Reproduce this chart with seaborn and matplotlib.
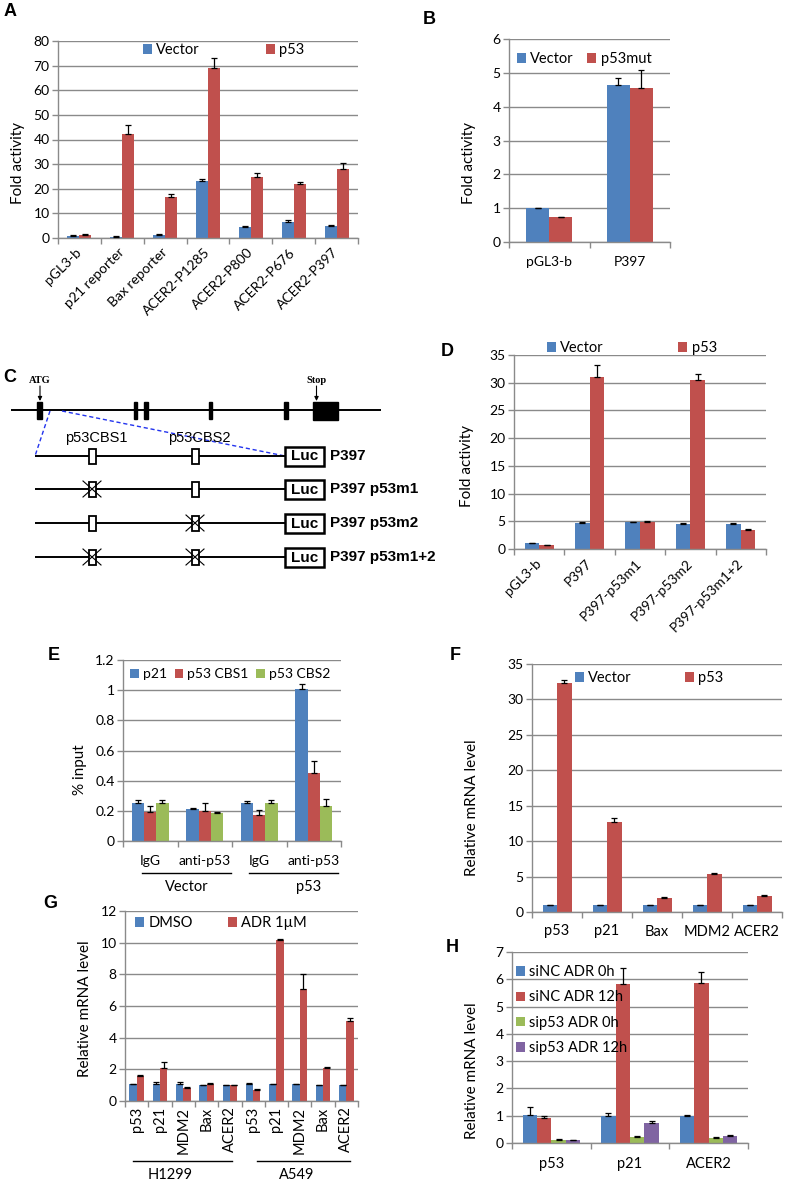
import numpy as np
import pandas as pd
import matplotlib
matplotlib.use("Agg")
import matplotlib.pyplot as plt
import matplotlib.ticker as mticker
import matplotlib.transforms as mtransforms
from matplotlib.patches import Rectangle
import seaborn as sns

# ---------------- data ----------------
a_categories = ["pGL3-b", "p21 reporter", "Bax reporter", "ACER2-P1285",
                "ACER2-P800", "ACER2-P676", "ACER2-P397"]
a_vector = [1.0, 0.5, 1.3, 23.2, 4.4, 6.6, 5.0]
a_vector_err = [0.3, 0.3, 0.4, 0.8, 0.4, 0.6, 0.4]
a_p53 = [1.4, 42.2, 16.8, 68.9, 24.8, 22.0, 28.2]
a_p53_err = [0.4, 3.8, 1.0, 4.0, 1.7, 0.8, 2.4]

b_categories = ["pGL3-b", "P397"]
b_vector = [1.0, 4.65]
b_vector_err = [0.01, 0.21]
b_p53mut = [0.73, 4.55]
b_p53mut_err = [0.01, 0.52]

c_constructs = ["P397", "P397 p53m1", "P397 p53m2", "P397 p53m1+2"]
c_sites = ["p53CBS1", "p53CBS2"]

d_categories = ["pGL3-b", "P397", "P397-p53m1", "P397-p53m2", "P397-p53m1+2"]
d_vector = [1.0, 4.7, 4.8, 4.5, 4.6]
d_vector_err = [0.1, 0.15, 0.1, 0.15, 0.1]
d_p53 = [0.7, 31.1, 4.9, 30.4, 3.5]
d_p53_err = [0.1, 2.1, 0.1, 1.1, 0.1]

e_categories = ["IgG", "anti-p53", "IgG", "anti-p53"]
e_groups = ["Vector", "p53"]
e_p21 = [0.25, 0.215, 0.255, 1.01]
e_p21_err = [0.02, 0.005, 0.007, 0.03]
e_cbs1 = [0.195, 0.20, 0.175, 0.45]
e_cbs1_err = [0.035, 0.05, 0.03, 0.08]
e_cbs2 = [0.255, 0.185, 0.255, 0.23]
e_cbs2_err = [0.015, 0.01, 0.02, 0.05]

f_categories = ["p53", "p21", "Bax", "MDM2", "ACER2"]
f_vector = [1.0, 1.0, 1.0, 1.0, 1.0]
f_vector_err = [0.05, 0.05, 0.05, 0.05, 0.05]
f_p53 = [32.3, 12.7, 2.0, 5.4, 2.3]
f_p53_err = [0.5, 0.6, 0.1, 0.15, 0.1]

g_categories = ["p53", "p21", "MDM2", "Bax", "ACER2",
                "p53", "p21", "MDM2", "Bax", "ACER2"]
g_groups = ["H1299", "A549"]
g_dmso = [1.05, 1.05, 1.05, 1.0, 1.0, 1.05, 1.05, 1.05, 1.0, 1.0]
g_dmso_err = [0.05, 0.15, 0.12, 0.02, 0.02, 0.07, 0.03, 0.03, 0.02, 0.02]
g_adr = [1.6, 2.06, 0.85, 1.1, 1.0, 0.7, 10.2, 7.1, 2.1, 5.05]
g_adr_err = [0.03, 0.42, 0.02, 0.03, 0.02, 0.05, 0.05, 0.95, 0.03, 0.2]

h_categories = ["p53", "p21", "ACER2"]
h_sinc_0h = [1.03, 1.0, 1.0]
h_sinc_0h_err = [0.3, 0.1, 0.02]
h_sinc_12h = [0.9, 5.82, 5.87]
h_sinc_12h_err = [0.08, 0.58, 0.38]
h_sip53_0h = [0.12, 0.23, 0.2]
h_sip53_0h_err = [0.02, 0.03, 0.03]
h_sip53_12h = [0.1, 0.75, 0.26]
h_sip53_12h_err = [0.02, 0.07, 0.03]

# ---------------- style ----------------
BLUE, RED, GREEN, PURPLE = "#4F81BD", "#C0504D", "#9BBB59", "#8064A2"
GRID = "#8A8A8A"
FONT = "Lato"
TICK_FS = 10
LEG_FS = 10.5
YLAB_FS = 11

W, H = 787, 1181
fig = plt.figure(figsize=(W / 100, H / 100), dpi=100)
plt.rcParams["font.family"] = [FONT, "DejaVu Sans"]

# overlay axes in pixel coordinates (for diagram and annotations)
dax = fig.add_axes([0, 0, 1, 1])
dax.set_xlim(0, W)
dax.set_ylim(H, 0)
dax.axis("off")


def px_axes(left, top, right, bottom):
    return fig.add_axes([left / W, 1 - bottom / H, (right - left) / W, (bottom - top) / H])


def grouped_bars(ax, labels, series, colors, width, ymax, ystep):
    n = len(labels)
    keys = [f"c{i}" for i in range(n)]
    rows = []
    for name, vals, errs in series:
        for k, v in zip(keys, vals):
            rows.append({"cat": k, "series": name, "value": v})
    df = pd.DataFrame(rows)
    names = [s[0] for s in series]
    sns.barplot(data=df, x="cat", y="value", hue="series", order=keys,
                hue_order=names, palette=colors, width=width, saturation=1,
                errorbar=None, legend=False, linewidth=0, ax=ax)
    for cont, (name, vals, errs) in zip(ax.containers, series):
        xs = [b.get_x() + b.get_width() / 2 for b in cont]
        hs = [b.get_height() for b in cont]
        ax.errorbar(xs, hs, yerr=[np.zeros(len(errs)), errs], fmt="none",
                    ecolor="black", elinewidth=0.9, capsize=2.3, capthick=0.9,
                    zorder=4)
    ax.set_xlim(-0.5, n - 0.5)
    ax.set_ylim(0, ymax)
    ax.set_yticks(np.arange(0, ymax + ystep / 2, ystep))
    ax.yaxis.set_major_formatter(mticker.FuncFormatter(lambda v, p: f"{v:g}"))
    ax.grid(axis="y", color=GRID, lw=1.0)
    ax.grid(axis="x", visible=False)
    ax.set_axisbelow(True)
    ax.set_facecolor("none")
    for s in ["top", "right"]:
        ax.spines[s].set_visible(False)
    for s in ["left", "bottom"]:
        ax.spines[s].set_color(GRID)
        ax.spines[s].set_linewidth(1.0)
    ax.set_xticks(range(n))
    ax.set_xticklabels(labels)
    ax.set_xticks(np.arange(-0.5, n), minor=True)
    ax.tick_params(axis="x", which="major", length=0, labelsize=TICK_FS)
    ax.tick_params(axis="x", which="minor", length=4, color=GRID, width=1)
    ax.tick_params(axis="y", length=4, color=GRID, width=1, labelsize=TICK_FS, pad=2)
    ax.set_xlabel("")
    ax.set_ylabel("")


def ylabel(ax, text, xc, yc):
    ax.set_ylabel(text, fontsize=YLAB_FS)
    ax.yaxis.label.set_va("center")
    ax.yaxis.label.set_ha("center")
    inv = ax.transAxes.inverted()
    ax_x, ax_y = inv.transform(fig.dpi_scale_trans.transform((xc / 100, (H - yc) / 100)))
    ax.yaxis.set_label_coords(ax_x, ax_y)


def legend(ax, names, colors, x, y, ncol, colspacing, loc="center left",
           labelspacing=0.5, fontsize=LEG_FS):
    handles = [Rectangle((0, 0), 1, 1, facecolor=c, edgecolor="none") for c in colors]
    ax.legend(handles, names, loc=loc, bbox_to_anchor=(x / W, 1 - y / H),
              bbox_transform=fig.transFigure, ncol=ncol, frameon=False,
              fontsize=fontsize, handlelength=0.62, handleheight=0.62,
              handletextpad=0.3, columnspacing=colspacing, borderpad=0,
              borderaxespad=0, labelspacing=labelspacing)


def panel_letter(x, y, s):
    fig.text(x / W, 1 - y / H, s, fontsize=13, fontweight="bold",
             family="Liberation Sans", ha="center", va="center")


# ---------------- A ----------------
axA = px_axes(58, 41, 358, 238)
grouped_bars(axA, a_categories,
             [("Vector", a_vector, a_vector_err), ("p53", a_p53, a_p53_err)],
             [BLUE, RED], 0.56, 80, 10)
for lab in axA.get_xticklabels():
    lab.set_rotation(45)
    lab.set_ha("right")
    lab.set_va("center")
    lab.set_rotation_mode("anchor")
axA.tick_params(axis="x", which="major", pad=9)
ylabel(axA, "Fold activity", 18, 163)
legend(axA, ["Vector", "p53"], [BLUE, RED], 143, 50, 2, 4.5)
panel_letter(10, 11, "A")

# ---------------- B ----------------
axB = px_axes(509, 39, 670, 242)
grouped_bars(axB, b_categories,
             [("Vector", b_vector, b_vector_err), ("p53mut", b_p53mut, b_p53mut_err)],
             [BLUE, RED], 0.57, 6, 1)
axB.tick_params(axis="x", which="major", pad=10)
ylabel(axB, "Fold activity", 469, 163)
legend(axB, ["Vector", "p53mut"], [BLUE, RED], 517, 59, 2, 0.9)
panel_letter(429, 19, "B")

# ---------------- C (diagram) ----------------
panel_letter(10, 377, "C")
dax.plot([11, 381], [410, 410], color="black", lw=1.4, solid_capstyle="butt")
dax.add_patch(Rectangle((36.7, 401.7), 5, 17.6, color="black"))
for x0, w in [(134, 3.3), (144, 4.3), (208.7, 3.6), (284.3, 3.7)]:
    dax.add_patch(Rectangle((x0, 401.7), w, 17.6, color="black"))
dax.add_patch(Rectangle((313.3, 401.5), 25, 18.5, color="black"))
for xa, lab in [(40, "ATG"), (316.5, "Stop")]:
    dax.annotate("", xy=(xa, 401), xytext=(xa, 386),
                 arrowprops=dict(arrowstyle="-|>", color="black", lw=0.8,
                                 mutation_scale=6, shrinkA=0, shrinkB=0))
    dax.text(xa, 385, lab, family="Liberation Serif", fontweight="bold",
             fontsize=7.5, ha="center", va="bottom")
dax.plot([50, 35], [411, 456], color="#2233EE", lw=1.0, ls=(0, (3, 2)))
dax.plot([62, 285], [411, 456], color="#2233EE", lw=1.0, ls=(0, (3, 2)))
site_x = [92, 195]
for sx, name in zip(site_x, c_sites):
    dax.text(sx + 4, 438, name, family="Liberation Sans", fontsize=10.5,
             ha="center", va="center")
row_y = [456, 489, 523, 557]
mutated = [[], [0], [1], [0, 1]]
for ry, name, muts in zip(row_y, c_constructs, mutated):
    dax.plot([35, 285], [ry, ry], color="black", lw=1.4, solid_capstyle="butt")
    for i, sx in enumerate(site_x):
        dax.add_patch(Rectangle((sx - 3.5, ry - 7.5), 7, 15, facecolor="white",
                                edgecolor="black", lw=1.3, zorder=3))
        if i in muts:
            dax.plot([sx - 9, sx + 9], [ry - 8, ry + 8], color="black", lw=0.8, zorder=4)
            dax.plot([sx - 9, sx + 9], [ry + 8, ry - 8], color="black", lw=0.8, zorder=4)
    dax.add_patch(Rectangle((285, ry - 9.5), 39, 19.5, facecolor="white",
                            edgecolor="black", lw=1.8, zorder=3))
    dax.text(304.5, ry + 0.5, "Luc", family="Liberation Sans", fontweight="bold",
             fontsize=11, ha="center", va="center", zorder=5)
    dax.text(330, ry, name, family="Liberation Sans", fontweight="bold",
             fontsize=11, ha="left", va="center")

# ---------------- D ----------------
axD = px_axes(514, 355, 766, 549)
grouped_bars(axD, d_categories,
             [("Vector", d_vector, d_vector_err), ("p53", d_p53, d_p53_err)],
             [BLUE, RED], 0.58, 35, 5)
for lab in axD.get_xticklabels():
    lab.set_rotation(45)
    lab.set_ha("right")
    lab.set_va("center")
    lab.set_rotation_mode("anchor")
axD.tick_params(axis="x", which="major", pad=9)
ylabel(axD, "Fold activity", 467, 466)
legend(axD, ["Vector", "p53"], [BLUE, RED], 547, 348, 2, 5.1)
panel_letter(447, 352, "D")

# ---------------- E ----------------
axE = px_axes(123, 660, 341, 841)
grouped_bars(axE, e_categories,
             [("p21", e_p21, e_p21_err), ("p53 CBS1", e_cbs1, e_cbs1_err),
              ("p53 CBS2", e_cbs2, e_cbs2_err)],
             [BLUE, RED, GREEN], 0.67, 1.2, 0.2)
axE.tick_params(axis="x", which="major", pad=10)
ylabel(axE, "% input", 80, 770)
legend(axE, ["p21", "p53 CBS1", "p53 CBS2"], [BLUE, RED, GREEN], 130, 674, 3, 0.55,
       fontsize=10)
panel_letter(54, 656, "E")
blendE = mtransforms.blended_transform_factory(axE.transData, dax.transData)
for (x0, x1, xc), g in zip([(-0.15, 1.48, 0.67), (1.81, 3.45, 2.91)], e_groups):
    dax.plot([x0, x1], [873, 873], color="black", lw=1.0, transform=blendE, clip_on=False)
    dax.text(xc, 887, g, fontsize=TICK_FS + 0.5, ha="center", va="center",
             transform=blendE)

# ---------------- F ----------------
axF = px_axes(532, 664, 782, 912)
grouped_bars(axF, f_categories,
             [("Vector", f_vector, f_vector_err), ("p53", f_p53, f_p53_err)],
             [BLUE, RED], 0.58, 35, 5)
axF.tick_params(axis="x", which="major", pad=9, labelsize=TICK_FS + 0.5)
ylabel(axF, "Relative mRNA level", 472, 808)
legend(axF, ["Vector", "p53"], [BLUE, RED], 575, 678, 2, 3.6)
panel_letter(455, 655, "F")

# ---------------- G ----------------
axG = px_axes(125, 911, 358, 1101)
grouped_bars(axG, g_categories,
             [("DMSO", g_dmso, g_dmso_err), ("ADR 1\u00b5M", g_adr, g_adr_err)],
             [BLUE, RED], 0.63, 12, 2)
for lab in axG.get_xticklabels():
    lab.set_rotation(90)
    lab.set_ha("center")
    lab.set_va("top")
axG.tick_params(axis="x", which="major", pad=4, labelsize=TICK_FS + 0.5)
ylabel(axG, "Relative mRNA level", 85, 1009)
legend(axG, ["DMSO", "ADR 1\u00b5M"], [BLUE, RED], 135, 923, 2, 2.4)
panel_letter(50, 903, "G")
blendG = mtransforms.blended_transform_factory(axG.transData, dax.transData)
for (x0, x1, xc), g in zip([(-0.16, 4.09, 1.43), (5.17, 9.16, 6.88)], g_groups):
    dax.plot([x0, x1], [1161, 1161], color="black", lw=1.0, transform=blendG, clip_on=False)
    dax.text(xc, 1175, g, fontsize=TICK_FS + 0.5, ha="center", va="center",
             transform=blendG)

# ---------------- H ----------------
axH = px_axes(512, 952, 748, 1143)
grouped_bars(axH, h_categories,
             [("siNC ADR 0h", h_sinc_0h, h_sinc_0h_err),
              ("siNC ADR 12h", h_sinc_12h, h_sinc_12h_err),
              ("sip53 ADR 0h", h_sip53_0h, h_sip53_0h_err),
              ("sip53 ADR 12h", h_sip53_12h, h_sip53_12h_err)],
             [BLUE, RED, GREEN, PURPLE], 0.73, 7, 1)
axH.tick_params(axis="x", which="major", pad=10, labelsize=TICK_FS + 0.5)
ylabel(axH, "Relative mRNA level", 472, 1071)
legend(axH, ["siNC ADR 0h", "siNC ADR 12h", "sip53 ADR 0h", "sip53 ADR 12h"],
       [BLUE, RED, GREEN, PURPLE], 516, 965, 1, 1.0, loc="upper left", labelspacing=0.78)
panel_letter(452, 948, "H")

fig.savefig("out.png", dpi=100)
